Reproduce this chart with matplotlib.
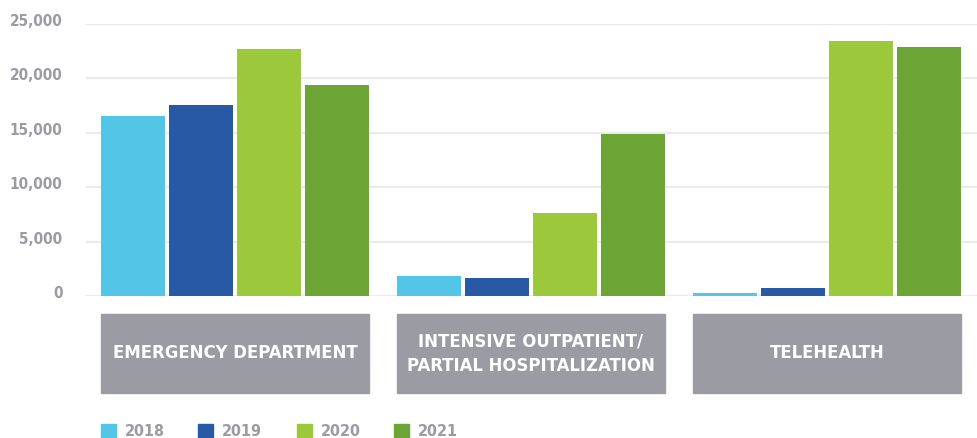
import numpy as np
import matplotlib.pyplot as plt
from matplotlib.patches import Rectangle
import matplotlib.transforms as mtransforms

# data
categories = ['EMERGENCY DEPARTMENT', 'INTENSIVE OUTPATIENT/\nPARTIAL HOSPITALIZATION', 'TELEHEALTH']
years = ['2018', '2019', '2020', '2021']
v2018 = [16550, 1850, 300]
v2019 = [17550, 1650, 750]
v2020 = [22700, 7650, 23450]
v2021 = [19400, 14850, 22900]
yticks = [0, 5000, 10000, 15000, 20000, 25000]

COLS = ['#53C6E8', '#2759A5', '#9CC83C', '#6CA535']
GREY = '#9A9BA3'
FONT = dict(family='DejaVu Sans', fontstretch='condensed', fontweight='bold')

W, H = 977, 438
fig = plt.figure(figsize=(W / 100, H / 100), dpi=100)
# axes: x 86..977 px, y (25000) 24 .. (0) 296 px
ax = fig.add_axes([86 / W, 1 - 296 / H, (977 - 86) / W, (296 - 24) / H])

series = [v2018, v2019, v2020, v2021]
x = np.arange(len(categories))
step = 68 / 296
width = 64 / 296
for i, vals in enumerate(series):
    ax.bar(x + (i - 1.5) * step, vals, width=width, color=COLS[i], zorder=2)

ax.set_ylim(0, 25000)
ax.set_xlim((86 - 235) / 296, (977 - 235) / 296)
ax.set_yticks(yticks)
ax.set_yticklabels([f'{t:,}' for t in yticks], fontsize=11, color=GREY, **FONT)
ax.tick_params(axis='y', length=0, pad=17)
# labels sit a few pixels above their gridlines
up = mtransforms.ScaledTranslation(0, 4 / 100, fig.dpi_scale_trans)
for lab in ax.get_yticklabels():
    lab.set_transform(lab.get_transform() + up)
ax.set_xticks([])
for s in ax.spines.values():
    s.set_visible(False)
ax.yaxis.grid(True, color='#000000', alpha=0.08, lw=1.6)
for l in ax.get_ygridlines():
    l.set_zorder(3)

# category boxes under the groups
trans = mtransforms.blended_transform_factory(ax.transData, ax.transAxes)
box_top = (296 - 314) / 272
box_bot = (296 - 393) / 272
half = 134 / 296
for xi, cat in zip(x, categories):
    ax.add_patch(Rectangle((xi - half, box_bot), 2 * half, box_top - box_bot,
                           transform=trans, color=GREY, clip_on=False, zorder=1))
    ax.text(xi, (box_top + box_bot) / 2, cat, transform=trans, ha='center',
            va='center', color='white', fontsize=13.2, linespacing=1.45, **FONT)

# legend along the bottom
leg_x = [101, 198, 297, 394]
for lx, yr, c in zip(leg_x, years, COLS):
    fig.patches.append(Rectangle((lx / W, 0), 15 / W, 14 / H,
                                 transform=fig.transFigure, color=c))
    fig.text((lx + 24) / W, 2 / H, yr, ha='left', va='baseline', color=GREY,
             fontsize=11.5, **FONT)

plt.savefig('out.png', dpi=100)
